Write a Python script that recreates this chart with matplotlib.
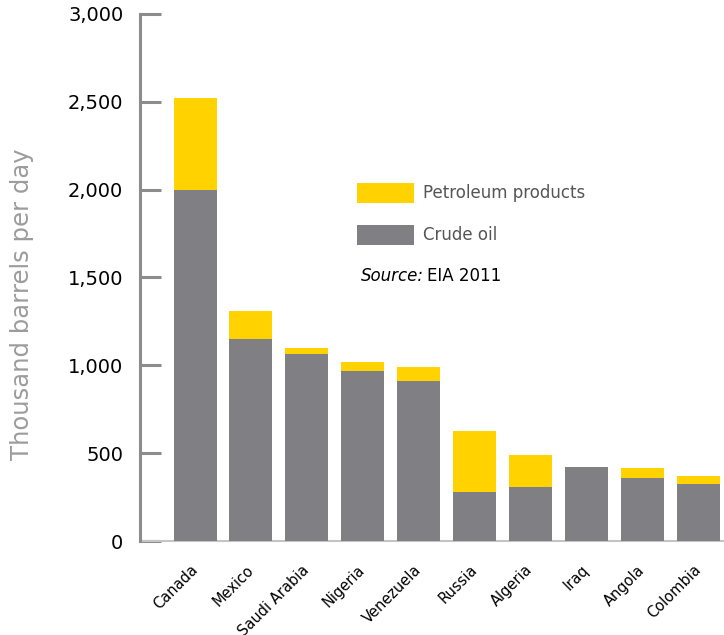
import matplotlib
matplotlib.use("Agg")
import matplotlib.pyplot as plt
from matplotlib.patches import Patch
import numpy as np

# Oil imports by source country, thousand barrels per day
countries = ["Canada", "Mexico", "Saudi Arabia", "Nigeria", "Venezuela",
             "Russia", "Algeria", "Iraq", "Angola", "Colombia"]
crude_oil = [2000, 1150, 1065, 970, 910, 278, 306, 420, 357, 322]
total_imports = [2522, 1310, 1098, 1018, 990, 625, 489, 420, 413, 368]
y_ticks = [0, 500, 1000, 1500, 2000, 2500, 3000]

YELLOW = "#FFD200"
GRAY = "#807F84"
AXIS_GRAY = "#8C8C8C"

crude = np.array(crude_oil)
products = np.array(total_imports) - crude
x = np.arange(len(countries))

fig = plt.figure(figsize=(7.24, 6.35), dpi=100)
ax = fig.add_axes([0.1934, 0.148, 0.8066, 0.830])

ax.bar(x, crude, width=0.77, color=GRAY, zorder=3)
ax.bar(x, products, bottom=crude, width=0.77, color=YELLOW, zorder=3)

ax.set_xlim(-0.984, 9.46)
ax.set_ylim(0, 3000)

for side in ("top", "right"):
    ax.spines[side].set_visible(False)
ax.spines["left"].set_color(AXIS_GRAY)
ax.spines["left"].set_linewidth(2.2)
ax.spines["bottom"].set_color("#C4C4C4")
ax.spines["bottom"].set_linewidth(1.5)
ax.spines["bottom"].set_zorder(2)

ax.set_yticks(y_ticks)
ax.set_yticklabels([f"{v:,}" for v in y_ticks], fontsize=14, color="black")
ax.tick_params(axis="y", direction="in", length=15, width=2.2,
               color=AXIS_GRAY, pad=12)

ax.set_xticks(x)
ax.set_xticklabels(countries, rotation=45, ha="right", va="center",
                   rotation_mode="anchor", fontsize=10.5)
ax.tick_params(axis="x", length=0, pad=19)

ax.set_ylabel("Thousand barrels per day", fontsize=17.5, color="#9C9C9C")
ax.yaxis.set_label_coords(-0.182, 0.45)

handles = [Patch(facecolor=YELLOW, label="Petroleum products"),
           Patch(facecolor=GRAY, label="Crude oil")]
ax.legend(handles=handles, loc="upper left",
          bbox_to_anchor=(357 / 724, 1 - 183 / 635),
          bbox_transform=fig.transFigure, frameon=False, fontsize=12,
          handlelength=3.4, handleheight=1.45, handletextpad=0.55,
          labelspacing=1.33, labelcolor="#555555", borderpad=0,
          borderaxespad=0)

fig.text(361 / 724, 1 - 276 / 635, "Source:", fontsize=12, style="italic",
         ha="left", va="center")
fig.text(427 / 724, 1 - 276 / 635, "EIA 2011", fontsize=12,
         ha="left", va="center")

fig.savefig("out.png", dpi=100)
